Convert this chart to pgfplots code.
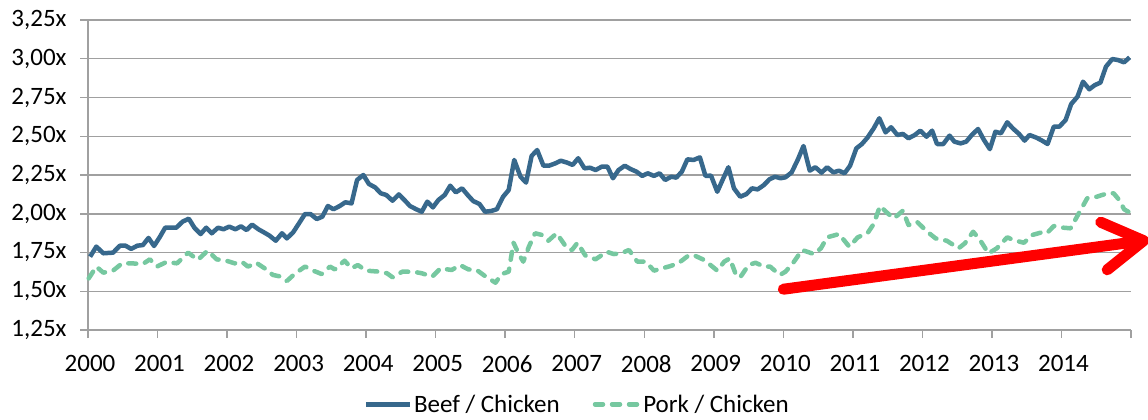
\documentclass[border=0pt]{standalone}
\usepackage{fontspec}
\setmainfont{Carlito}
\usepackage{pgfplots}
\pgfplotsset{compat=1.18}
\usetikzlibrary{arrows.meta}
\definecolor{beef}{RGB}{55,104,140}
\definecolor{pork}{RGB}{118,200,160}
\definecolor{gridg}{RGB}{160,160,160}
\begin{document}
\begin{tikzpicture}
\useasboundingbox (-88pt,-90pt) rectangle (1060pt,330pt);
\begin{axis}[
  at={(0pt,0pt)}, anchor=south west,
  scale only axis, width=1043pt, height=310pt,
  xmin=2000, xmax=2015, ymin=1.25, ymax=3.25,
  clip=false,
  axis x line*=bottom, axis y line*=left,
  axis line style={draw=gridg, line width=1.5pt},
  xtick={2000,2001,2002,2003,2004,2005,2006,2007,2008,2009,2010,2011,2012,2013,2014,2015},
  xticklabels={2000,2001,2002,2003,2004,2005,2006,2007,2008,2009,2010,2011,2012,2013,2014,{}},
  ytick={1.25,1.5,1.75,2,2.25,2.5,2.75,3,3.25},
  yticklabels={{1,25x},{1,50x},{1,75x},{2,00x},{2,25x},{2,50x},{2,75x},{3,00x},{3,25x}},
  tick align=outside, major tick length=8pt,
  tick style={draw=gridg, line width=1.5pt},
  ymajorgrids, major grid style={draw=gridg, line width=1.5pt},
  tick label style={font=\fontsize{25}{29}\selectfont, text=black},
  xticklabel style={yshift=-14pt, xshift=2pt},
  yticklabel style={xshift=-10pt},
  legend columns=2,
  legend style={draw=none, fill=none, at={(0.469,-0.24)}, anchor=center,
    font=\fontsize{25}{29}\selectfont, inner sep=0pt,
    /tikz/every even column/.append style={column sep=31pt}},
  legend cell align=left,
  legend image code/.code={\draw[#1] (0pt,0pt) -- (44pt,0pt);},
]
\addplot[beef, line width=4.5pt, line join=round] coordinates {
(2000.03,1.723) (2000.12,1.788) (2000.22,1.745) (2000.36,1.749) (2000.46,1.794)
(2000.54,1.794) (2000.62,1.773) (2000.71,1.794) (2000.79,1.798) (2000.87,1.844)
(2000.95,1.792) (2001.03,1.848) (2001.11,1.910) (2001.27,1.910) (2001.36,1.949)
(2001.45,1.968) (2001.53,1.910) (2001.62,1.869) (2001.70,1.910) (2001.78,1.874)
(2001.87,1.910) (2001.95,1.900) (2002.03,1.917) (2002.12,1.900) (2002.20,1.919)
(2002.28,1.895) (2002.36,1.930) (2002.45,1.900) (2002.53,1.880) (2002.61,1.859)
(2002.70,1.826) (2002.79,1.874) (2002.86,1.841) (2002.95,1.880) (2003.04,1.942)
(2003.12,1.998) (2003.20,1.998) (2003.29,1.966) (2003.37,1.981) (2003.45,2.050)
(2003.53,2.029) (2003.62,2.050) (2003.70,2.074) (2003.79,2.067) (2003.87,2.218)
(2003.96,2.250) (2004.04,2.192) (2004.13,2.170) (2004.21,2.132) (2004.29,2.121)
(2004.38,2.084) (2004.47,2.125) (2004.55,2.089) (2004.63,2.050) (2004.72,2.029)
(2004.80,2.013) (2004.88,2.078) (2004.96,2.041) (2005.04,2.089) (2005.13,2.121)
(2005.21,2.181) (2005.29,2.138) (2005.38,2.164) (2005.46,2.121) (2005.54,2.082)
(2005.63,2.063) (2005.71,2.013) (2005.80,2.018) (2005.88,2.029) (2005.97,2.110)
(2006.05,2.153) (2006.13,2.347) (2006.22,2.239) (2006.30,2.201) (2006.38,2.373)
(2006.46,2.411) (2006.55,2.310) (2006.63,2.310) (2006.72,2.325) (2006.80,2.342)
(2006.89,2.330) (2006.97,2.315) (2007.05,2.358) (2007.14,2.293) (2007.22,2.297)
(2007.30,2.282) (2007.39,2.304) (2007.47,2.304) (2007.55,2.229) (2007.63,2.282)
(2007.72,2.310) (2007.80,2.289) (2007.89,2.271) (2007.97,2.244) (2008.05,2.261)
(2008.14,2.244) (2008.22,2.261) (2008.30,2.218) (2008.39,2.239) (2008.46,2.233)
(2008.54,2.271) (2008.62,2.351) (2008.71,2.347) (2008.80,2.364) (2008.88,2.244)
(2008.96,2.246) (2009.05,2.142) (2009.13,2.222) (2009.21,2.300) (2009.29,2.164)
(2009.38,2.110) (2009.47,2.127) (2009.55,2.164) (2009.63,2.157) (2009.72,2.185)
(2009.80,2.222) (2009.88,2.239) (2009.96,2.229) (2010.03,2.235) (2010.12,2.267)
(2010.21,2.351) (2010.29,2.437) (2010.38,2.278) (2010.46,2.300) (2010.55,2.265)
(2010.63,2.300) (2010.72,2.267) (2010.80,2.278) (2010.88,2.261) (2010.96,2.310)
(2011.05,2.422) (2011.13,2.450) (2011.21,2.491) (2011.30,2.551) (2011.38,2.616)
(2011.47,2.525) (2011.55,2.558) (2011.64,2.508) (2011.72,2.515) (2011.80,2.487)
(2011.89,2.508) (2011.97,2.536) (2012.06,2.497) (2012.14,2.536) (2012.21,2.450)
(2012.30,2.450) (2012.39,2.504) (2012.46,2.465) (2012.55,2.454) (2012.63,2.465)
(2012.71,2.508) (2012.80,2.547) (2012.88,2.480) (2012.97,2.417) (2013.05,2.529)
(2013.13,2.519) (2013.22,2.590) (2013.30,2.551) (2013.39,2.515) (2013.47,2.472)
(2013.54,2.508) (2013.64,2.491) (2013.72,2.472) (2013.80,2.450) (2013.89,2.562)
(2013.97,2.562) (2014.06,2.605) (2014.14,2.708) (2014.23,2.755) (2014.31,2.852)
(2014.40,2.803) (2014.48,2.830) (2014.56,2.846) (2014.64,2.949) (2014.73,2.998)
(2014.81,2.992) (2014.90,2.977) (2014.98,3.009)
};
\addlegendentry{Beef / Chicken}
\addplot[pork, line width=4.5pt, line cap=round, line join=round, dash pattern=on 8pt off 9pt] coordinates {
(2000.01,1.583) (2000.12,1.659) (2000.22,1.620) (2000.36,1.633) (2000.49,1.680)
(2000.62,1.680) (2000.79,1.676) (2000.89,1.706) (2000.99,1.659) (2001.13,1.689)
(2001.28,1.680) (2001.44,1.749) (2001.58,1.702) (2001.72,1.762) (2001.85,1.706)
(2001.99,1.697) (2002.11,1.680) (2002.21,1.691) (2002.30,1.659) (2002.42,1.684)
(2002.54,1.648) (2002.66,1.605) (2002.78,1.594) (2002.86,1.566) (2002.97,1.611)
(2003.12,1.659) (2003.24,1.633) (2003.36,1.611) (2003.48,1.659) (2003.55,1.641)
(2003.69,1.697) (2003.79,1.648) (2003.88,1.669) (2004.00,1.633) (2004.20,1.626)
(2004.30,1.616) (2004.38,1.590) (2004.52,1.626) (2004.68,1.626) (2004.80,1.616)
(2004.95,1.594) (2005.07,1.648) (2005.23,1.637) (2005.35,1.669) (2005.47,1.641)
(2005.59,1.637) (2005.71,1.598) (2005.86,1.555) (2005.95,1.611) (2006.05,1.626)
(2006.12,1.813) (2006.19,1.744) (2006.26,1.691) (2006.34,1.787) (2006.43,1.874)
(2006.53,1.863) (2006.62,1.826) (2006.74,1.874) (2006.89,1.777) (2006.96,1.766)
(2007.04,1.813) (2007.15,1.732) (2007.30,1.706) (2007.46,1.755) (2007.56,1.740)
(2007.66,1.744) (2007.78,1.766) (2007.90,1.691) (2008.02,1.691) (2008.14,1.633)
(2008.26,1.648) (2008.38,1.663) (2008.50,1.684) (2008.64,1.732) (2008.74,1.727)
(2008.86,1.702) (2008.98,1.659) (2009.05,1.633) (2009.15,1.691) (2009.23,1.712)
(2009.32,1.605) (2009.38,1.590) (2009.50,1.669) (2009.60,1.684) (2009.72,1.659)
(2009.81,1.659) (2009.95,1.605) (2010.03,1.626) (2010.13,1.676) (2010.27,1.766)
(2010.44,1.740) (2010.54,1.777) (2010.63,1.848) (2010.80,1.869) (2010.95,1.787)
(2011.07,1.848) (2011.21,1.874) (2011.30,1.934) (2011.39,2.050) (2011.50,2.003)
(2011.59,1.970) (2011.72,2.020) (2011.80,1.927) (2011.92,1.949) (2012.07,1.884)
(2012.19,1.841) (2012.35,1.826) (2012.52,1.777) (2012.61,1.809) (2012.73,1.884)
(2012.83,1.830) (2012.95,1.744) (2013.07,1.777) (2013.22,1.848) (2013.31,1.830)
(2013.46,1.813) (2013.58,1.863) (2013.70,1.878) (2013.79,1.874) (2013.89,1.921)
(2013.98,1.912) (2014.13,1.906) (2014.25,2.003) (2014.37,2.100) (2014.51,2.110)
(2014.66,2.132) (2014.75,2.132) (2014.83,2.089) (2014.90,2.029) (2015.00,2.003)
};
\addlegendentry{Pork / Chicken}
\addplot[red, line width=11pt, line cap=round, line join=round,
  -{Straight Barb[length=40pt, width=48pt, line cap=round, line join=round]},
  forget plot] coordinates {(2010.0,1.513) (2015.26,1.831)};
\end{axis}
\end{tikzpicture}
\end{document}
